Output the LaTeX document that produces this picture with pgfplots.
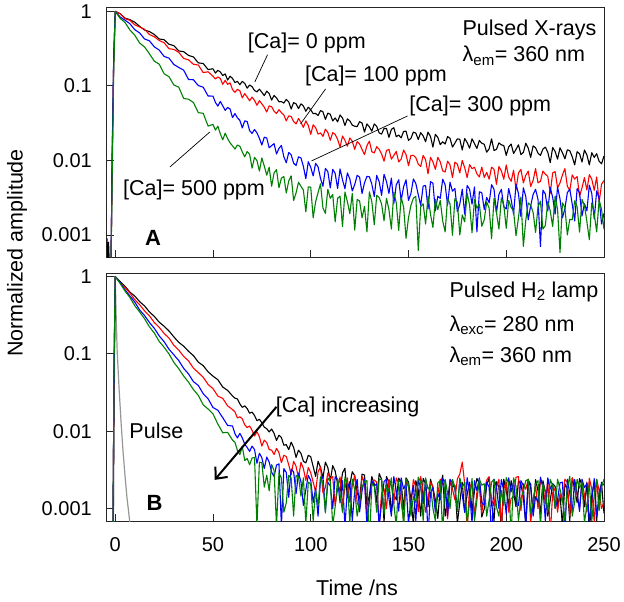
\documentclass[border=0pt]{standalone}
\usepackage{fontspec}
\setmainfont{Liberation Sans}
\usepackage{pgfplots}
\usepackage{pgfplotstable}
\pgfplotsset{compat=1.18}
\usetikzlibrary{arrows.meta}
\definecolor{cgreen}{RGB}{0,128,0}
\definecolor{cred}{RGB}{255,0,0}
\definecolor{cblue}{RGB}{0,0,255}
\definecolor{cgray}{RGB}{150,150,150}
\newcommand{\tf}{\fontsize{21.5}{25}\selectfont}

\pgfplotsset{
  panel/.style={
    scale only axis, width=497pt, xmin=-4.2, xmax=250,
    axis line style={black!85, line width=1pt},
    tick align=inside, tick pos=left, major tick length=7pt,
    xtick={0,50,100,150,200,250},
    ytick={0.001,0.01,0.1,1}, yticklabels={0.001,0.01,0.1,1},
    yminorticks=false, xminorticks=false,
    major tick style={black!85, line width=0.9pt},
    yticklabel style={font=\fontsize{20}{24}\selectfont, inner sep=0pt, xshift=-15pt},
    xticklabel style={font=\fontsize{20}{24}\selectfont, inner sep=0pt, yshift=-16pt},
    every axis plot/.append style={line width=1.1pt, line join=round},
  }
}

\pgfplotstableread{
t k r b g
-4.2 0.0009 0.0003 0.0003 0.0003
-3.8 0.0005 0.0003 0.0003 0.0003
-3.4 0.0008 0.0003 0.0003 0.0003
-3.0 0.0004 0.0003 0.0003 0.0003
-2.2 0.0003 0.0003 0.0003 0.0003
-1.5 0.012 0.012 0.015 0.008
-0.8 0.2 0.2 0.22 0.15
0 1 1 1 1
2.5 0.933 0.933 0.843 0.809
5 0.813 0.803 0.764 0.711
7.5 0.776 0.759 0.684 0.564
10 0.716 0.661 0.569 0.479
12.5 0.631 0.617 0.514 0.376
15 0.562 0.575 0.427 0.334
17.5 0.537 0.490 0.403 0.270
20 0.490 0.457 0.335 0.215
22.5 0.427 0.407 0.303 0.196
25 0.417 0.380 0.249 0.146
27.5 0.363 0.316 0.236 0.133
30 0.347 0.309 0.194 0.103
32.5 0.295 0.282 0.177 0.0963
35 0.288 0.234 0.163 0.0679
37.5 0.257 0.224 0.122 0.0664
40 0.245 0.195 0.121 0.0599
42.5 0.204 0.191 0.101 0.0438
45 0.200 0.151 0.0963 0.0429
47.5 0.166 0.155 0.0732 0.0290
50 0.170 0.135 0.0731 0.0304
51.25 0.149 0.124 0.0600 0.0255
52.5 0.162 0.132 0.0535 0.0288
53.75 0.154 0.126 0.0620 0.0228
55 0.138 0.105 0.0540 0.0189
56.25 0.145 0.119 0.0470 0.0232
57.5 0.120 0.105 0.0514 0.0196
58.75 0.135 0.110 0.0490 0.0172
60 0.126 0.0891 0.0376 0.0157
61.25 0.111 0.0820 0.0425 0.0142
62.5 0.115 0.0902 0.0373 0.0161
63.75 0.104 0.0860 0.0345 0.0155
65 0.115 0.0692 0.0273 0.0130
66.25 0.108 0.0790 0.0340 0.0112
67.5 0.0933 0.0708 0.0333 0.0132
68.75 0.103 0.0632 0.0250 0.0121
70 0.0977 0.0708 0.0231 0.00789
71.25 0.0869 0.0640 0.0260 0.0110
72.5 0.0832 0.0550 0.0234 0.00995
73.75 0.0905 0.0635 0.0198 0.0072
75 0.0822 0.0575 0.0161 0.0108
76.25 0.0742 0.0518 0.0205 0.0084
77.5 0.0851 0.0447 0.0200 0.00635
78.75 0.0790 0.0540 0.0148 0.0081
80 0.0646 0.0525 0.0158 0.00450
81.25 0.0745 0.0458 0.0168 0.0068
82.5 0.0692 0.0427 0.0122 0.00753
83.75 0.0612 0.0480 0.0145 0.0043
85 0.0617 0.0437 0.0159 0.00578
86.25 0.0588 0.0408 0.0112 0.0061
87.5 0.0661 0.0339 0.00931 0.00365
88.75 0.0612 0.0396 0.0128 0.0053
90 0.0490 0.0389 0.0119 0.00622
91.25 0.0598 0.0332 0.0092 0.0029
92.5 0.0575 0.0309 0.00855 0.00366
93.75 0.0497 0.0365 0.0112 0.0051
95 0.0575 0.0324 0.0108 0.00450
96.25 0.0538 0.0278 0.0083 0.0040
97.5 0.0457 0.0339 0.00569 0.00204
98.75 0.0518 0.0295 0.0096 0.0044
100 0.0479 0.0224 0.00809 0.00439
101.25 0.0425 0.0301 0.0062 0.0017
102.5 0.0427 0.0275 0.00914 0.00279
103.75 0.0401 0.0226 0.0082 0.0037
105 0.0468 0.0234 0.00574 0.00486
106.25 0.0449 0.0210 0.0045 0.0023
107.5 0.0355 0.0263 0.00781 0.00195
108.75 0.0431 0.0238 0.0071 0.0041
110 0.0417 0.0186 0.00428 0.00310
111.25 0.0339 0.0236 0.0076 0.0035
112.5 0.0372 0.0224 0.00671 0.00150
113.75 0.0330 0.0192 0.0042 0.0031
115 0.0407 0.0151 0.00769 0.00332
116.25 0.0372 0.0213 0.0055 0.0013
117.5 0.0295 0.0186 0.00417 0.00377
118.75 0.0362 0.0155 0.0068 0.0028
120 0.0339 0.0200 0.00565 0.00193
121.25 0.0298 0.0181 0.0039 0.0036
122.5 0.0288 0.0141 0.00475 0.00116
123.75 0.0284 0.0179 0.0063 0.0030
125 0.0331 0.0166 0.00598 0.00286
126.25 0.0318 0.0140 0.0036 0.0017
127.5 0.0240 0.0120 0.00501 0.00242
128.75 0.0309 0.0158 0.0061 0.0011
130 0.0282 0.0182 0.00604 0.00378
131.25 0.0247 0.0131 0.0048 0.0028
132.5 0.0309 0.0126 0.00328 0.00137
133.75 0.0286 0.0153 0.0063 0.0034
135 0.0234 0.0141 0.00520 0.00318
136.25 0.0226 0.0122 0.0034 0.0026
137.5 0.0269 0.00977 0.00650 0.00155
138.75 0.0268 0.0136 0.0052 0.0031
140 0.0204 0.0141 0.00361 0.00219
141.25 0.0261 0.0104 0.0058 0.0012
142.5 0.0275 0.0117 0.00264 0.00375
143.75 0.0208 0.0132 0.0047 0.0027
145 0.0219 0.00955 0.00550 0.00115
146.25 0.0201 0.0104 0.0029 0.0032
147.5 0.0245 0.0138 0.00442 0.00238
148.75 0.0247 0.0120 0.0055 0.0009
150 0.0186 0.00851 0.00291 0.00170
151.25 0.0198 0.0117 0.0036 0.0025
152.5 0.0240 0.0117 0.00564 0.00311
153.75 0.0233 0.0109 0.0049 0.0033
155 0.0191 0.00891 0.00347 0.00062
156.25 0.0236 0.00830 0.0025 0.0024
157.5 0.0214 0.0117 0.00454 0.00262
158.75 0.0178 0.0102 0.0046 0.0014
160 0.0240 0.00661 0.00223 0.00332
161.25 0.0210 0.0110 0.0052 0.0019
162.5 0.0151 0.00955 0.00495 0.00126
163.75 0.0224 0.00760 0.0021 0.0030
165 0.0204 0.0110 0.00331 0.00219
166.25 0.0163 0.00955 0.0031 0.0029
167.5 0.0178 0.00724 0.00560 0.00154
168.75 0.0166 0.00700 0.0047 0.0011
170 0.0209 0.00977 0.00251 0.00313
171.25 0.0198 0.00870 0.0051 0.0026
172.5 0.0151 0.00589 0.00386 0.000989
173.75 0.0171 0.00950 0.0042 0.0031
175 0.0195 0.00891 0.00205 0.00274
176.25 0.0192 0.00680 0.0026 0.0010
177.5 0.0138 0.0100 0.00411 0.00186
178.75 0.0197 0.00800 0.0019 0.0015
180 0.0174 0.00589 0.00461 0.00363
181.25 0.0146 0.00880 0.0041 0.0025
182.5 0.0195 0.00776 0.00259 0.00107
183.75 0.0169 0.00810 0.0044 0.0030
185 0.0145 0.00661 0.00110 0.00228
186.25 0.0186 0.00600 0.0038 0.0026
187.5 0.0170 0.00813 0.00368 0.00131
188.75 0.0165 0.00590 0.0022 0.0016
190 0.0129 0.00692 0.00319 0.00278
191.25 0.0143 0.00560 0.0027 0.0023
192.5 0.0195 0.00813 0.00473 0.000889
193.75 0.0136 0.00760 0.0041 0.0031
195 0.0141 0.00479 0.00199 0.00199
196.25 0.0172 0.00830 0.0035 0.0012
197.5 0.0162 0.00724 0.00410 0.00315
198.75 0.0158 0.00560 0.0024 0.0025
200 0.0117 0.00871 0.00223 0.00123
201.25 0.0152 0.00600 0.0042 0.0029
202.5 0.0166 0.00525 0.00300 0.00234
203.75 0.0124 0.00740 0.0019 0.0021
205 0.0141 0.00407 0.00478 0.000977
206.25 0.0162 0.00680 0.0036 0.0017
207.5 0.0120 0.00759 0.00176 0.00324
208.75 0.0128 0.00500 0.0043 0.0007
210 0.0170 0.00631 0.00327 0.00158
211.25 0.0146 0.00720 0.0016 0.0027
212.5 0.0110 0.00447 0.00246 0.00250
213.75 0.0157 0.00540 0.0035 0.0020
215 0.0148 0.00776 0.00410 0.00108
216.25 0.0125 0.00500 0.0030 0.0024
217.5 0.0117 0.00525 0.00070 0.00284
218.75 0.0142 0.00720 0.0040 0.0012
220 0.0151 0.00655 0.00354 0.00134
221.25 0.0129 0.00610 0.0021 0.0028
222.5 0.00933 0.00363 0.00433 0.00210
223.75 0.0149 0.00680 0.0032 0.0013
225 0.0132 0.00708 0.00190 0.00333
226.25 0.0104 0.00430 0.0044 0.0022
227.5 0.0148 0.00501 0.00303 0.00058
228.75 0.0127 0.00640 0.0017 0.0027
230 0.0105 0.00776 0.00225 0.00234
231.25 0.0139 0.00450 0.0037 0.0010
232.5 0.0135 0.00398 0.00411 0.00162
233.75 0.0112 0.00640 0.0026 0.0016
235 0.00871 0.00562 0.00154 0.00288
236.25 0.0131 0.00610 0.0042 0.0024
237.5 0.0123 0.00331 0.00366 0.00109
238.75 0.00952 0.00430 0.0018 0.0030
240 0.0138 0.00589 0.00263 0.00250
241.25 0.0119 0.00400 0.0021 0.0015
242.5 0.00871 0.00646 0.00465 0.000863
243.75 0.0127 0.00560 0.0036 0.0027
245 0.0110 0.00398 0.00164 0.00193
246.25 0.0123 0.00600 0.0039 0.0011
247.5 0.00977 0.00275 0.00312 0.00294
248.75 0.00902 0.00480 0.0014 0.0022
250 0.0115 0.00537 0.00195 0.00119
}\toptable

\pgfplotstableread{
t k r b g
-4.2 0.0003 0.0003 0.0003 0.0003
-1.2 0.0003 0.0003 0.0003 0.0003
-0.6 0.05 0.05 0.06 0.07
0 1 1 1 1
2.5 0.859 0.828 0.834 0.817
5 0.748 0.719 0.672 0.650
7.5 0.629 0.612 0.560 0.537
10 0.559 0.502 0.467 0.420
12.5 0.473 0.431 0.370 0.348
15 0.417 0.360 0.313 0.285
17.5 0.349 0.311 0.255 0.224
20 0.305 0.254 0.214 0.186
22.5 0.257 0.221 0.171 0.145
25 0.228 0.184 0.144 0.122
27.5 0.198 0.160 0.115 0.0999
30 0.166 0.129 0.0974 0.0776
32.5 0.141 0.112 0.0820 0.0645
35 0.126 0.0930 0.0651 0.0518
37.5 0.108 0.0813 0.0551 0.0432
40 0.0950 0.0655 0.0438 0.0346
42.5 0.0783 0.0573 0.0392 0.0291
45 0.0705 0.0500 0.0306 0.0220
47.5 0.0587 0.0403 0.0263 0.0194
50 0.0516 0.0356 0.0203 0.0168
52.5 0.0464 0.0285 0.0187 0.0124
55 0.0373 0.0266 0.0150 0.00957
57.5 0.0338 0.0213 0.0119 0.00969
60 0.0286 0.0191 0.0117 0.00769
61.25 0.0268 0.0178 0.0093 0.0072
62.5 0.0262 0.0149 0.0082 0.00567
63.75 0.0226 0.0154 0.0094 0.0050
65 0.0204 0.0145 0.00822 0.00636
66.25 0.0213 0.0121 0.0068 0.0042
67.5 0.0197 0.0112 0.00618 0.00445
68.75 0.0171 0.0117 0.0055 0.0037
70 0.0177 0.0103 0.00644 0.00452
71.25 0.0160 0.0087 0.0058 0.0046
72.5 0.0137 0.00989 0.00387 0.0006
73.75 0.0143 0.0085 0.0052 0.0040
75 0.0129 0.00645 0.00455 0.00392
76.25 0.0113 0.0077 0.0033 0.0019
77.5 0.0108 0.00715 0.00465 0.00271
78.75 0.0098 0.0058 0.0040 0.0017
80 0.0107 0.00572 0.00297 0.00372
81.25 0.0094 0.0050 0.0026 0.0031
82.5 0.00762 0.00602 0.00366 0.0006
83.75 0.0089 0.0053 0.0038 0.0029
85 0.00830 0.00393 0.0006 0.0025
86.25 0.0066 0.0049 0.0033 0.0009
87.5 0.00673 0.00472 0.00293 0.00119
88.75 0.0058 0.0037 0.0014 0.0027
90 0.00723 0.00275 0.00325 0.00248
91.25 0.0062 0.0041 0.0030 0.0008
92.5 0.00459 0.00352 0.00156 0.00268
93.75 0.0057 0.0025 0.0029 0.0026
95 0.00519 0.00397 0.00223 0.00145
96.25 0.0041 0.0033 0.0011 0.0025
97.5 0.00390 0.00232 0.00176 0.00065
98.75 0.0049 0.0034 0.0027 0.0022
100 0.00469 0.00291 0.00233 0.00207
101.25 0.0035 0.0022 0.0012 0.0007
102.5 0.00262 0.00165 0.00183 0.00173
103.75 0.0041 0.0030 0.0008 0.0011
105 0.00343 0.00347 0.00235 0.00258
106.25 0.0025 0.0016 0.0026 0.0021
107.5 0.00399 0.00188 0.00093 0.00088
108.75 0.0034 0.0029 0.0022 0.0025
110 0.00230 0.00243 0.00197 0.00225
111.25 0.0036 0.0026 0.0010 0.0006
112.5 0.00306 0.00110 0.00259 0.00106
113.75 0.0021 0.0018 0.0024 0.0024
115 0.00164 0.00257 0.00119 0.00156
116.25 0.0029 0.0011 0.0023 0.0009
117.5 0.00333 0.00184 0.00059 0.00257
118.75 0.0014 0.0025 0.0018 0.0021
120 0.00204 0.00121 0.00223 0.00066
121.25 0.0030 0.0020 0.0007 0.0024
122.5 0.00267 0.00270 0.00171 0.00175
123.75 0.0016 0.0012 0.0024 0.0008
125 0.00133 0.00099 0.00091 0.00123
126.25 0.0028 0.0026 0.0017 0.0019
127.5 0.00272 0.00219 0.00241 0.00225
128.75 0.0011 0.0008 0.0006 0.0023
130 0.00148 0.00130 0.00132 0.00035
131.25 0.0026 0.0021 0.0023 0.0021
132.5 0.00208 0.00235 0.00197 0.00195
133.75 0.0012 0.0022 0.0021 0.0009
135 0.00284 0.00059 0.00058 0.00239
136.25 0.0024 0.0016 0.0012 0.0024
137.5 0.00067 0.00181 0.00224 0.00085
138.75 0.0026 0.0010 0.0024 0.0020
140 0.00217 0.00239 0.00137 0.00165
141.25 0.0009 0.0020 0.0008 0.0025
142.5 0.00155 0.00116 0.00260 0.00114
143.75 0.0013 0.0025 0.0017 0.0006
145 0.00248 0.00213 0.00093 0.00230
146.25 0.0022 0.0012 0.0025 0.0022
147.5 0.00098 0.00072 0.00180 0.00055
148.75 0.0025 0.0023 0.0021 0.0024
150 0.00221 0.00190 0.00064 0.00209
151.25 0.0013 0.0011 0.0013 0.0008
152.5 0.00064 0.00238 0.00201 0.00143
153.75 0.0023 0.0019 0.0007 0.0012
155 0.00174 0.00091 0.00230 0.00255
156.25 0.0008 0.0026 0.0019 0.0022
157.5 0.00246 0.00167 0.00115 0.00070
158.75 0.0021 0.0009 0.0024 0.0025
160 0.00106 0.00132 0.00045 0.00179
161.25 0.0024 0.0022 0.0016 0.0020
162.5 0.00185 0.00194 0.00187 0.00101
163.75 0.0013 0.0010 0.0009 0.0007
165 0.00075 0.00152 0.00157 0.00216
166.25 0.0019 0.0024 0.0013 0.0023
167.5 0.00271 0.00208 0.00245 0.00048
168.75 0.0008 0.0017 0.0022 0.0024
170 0.00125 0.00074 0.00080 0.00157
171.25 0.0023 0.0023 0.0024 0.0010
172.5 0.00190 0.00179 0.00216 0.00238
173.75 0.0020 0.0013 0.0018 0.0019
175 0.00065 0.00242 0.00101 0.00092
176.25 0.0012 0.0028 0.0023 0.0025
177.5 0.00218 0.00400 0.00150 0.00187
178.75 0.0009 0.0021 0.0009 0.0022
180 0.00152 0.00052 0.00252 0.00066
181.25 0.0022 0.0019 0.0016 0.0012
182.5 0.00093 0.00213 0.00066 0.00245
183.75 0.0017 0.0008 0.0023 0.0007
185 0.00246 0.00164 0.00172 0.00128
186.25 0.0021 0.0023 0.0025 0.0024
187.5 0.00078 0.00087 0.00121 0.00201
188.75 0.0010 0.0017 0.0011 0.0021
190 0.00202 0.00234 0.00220 0.00080
191.25 0.0025 0.0026 0.0019 0.0013
192.5 0.00114 0.00129 0.00040 0.00220
193.75 0.0007 0.0011 0.0024 0.0024
195 0.00223 0.00192 0.00194 0.00106
196.25 0.0019 0.0024 0.0010 0.0008
197.5 0.00048 0.00059 0.00238 0.00172
198.75 0.0024 0.0018 0.0017 0.0011
200 0.00172 0.00220 0.00085 0.00252
201.25 0.0011 0.0009 0.0025 0.0021
202.5 0.00230 0.00136 0.00165 0.00045
203.75 0.0016 0.0014 0.0022 0.0025
205 0.00106 0.00255 0.00115 0.00194
206.25 0.0023 0.0026 0.0011 0.0007
207.5 0.00208 0.00094 0.00230 0.00136
208.75 0.0014 0.0021 0.0020 0.0017
210 0.00062 0.00178 0.00059 0.00230
211.25 0.0024 0.0024 0.0023 0.0024
212.5 0.00187 0.00066 0.00209 0.00087
213.75 0.0009 0.0013 0.0008 0.0012
215 0.00238 0.00199 0.00143 0.00209
216.25 0.0017 0.0010 0.0012 0.0023
217.5 0.00084 0.00227 0.00255 0.00059
218.75 0.0023 0.0020 0.0019 0.0021
220 0.00165 0.00115 0.00070 0.00165
221.25 0.0008 0.0024 0.0025 0.0009
222.5 0.00128 0.00045 0.00179 0.00238
223.75 0.0021 0.0016 0.0021 0.0020
225 0.00194 0.00185 0.00101 0.00101
226.25 0.0011 0.0009 0.0013 0.0024
227.5 0.00150 0.00157 0.00216 0.00179
228.75 0.0006 0.0012 0.0022 0.0013
230 0.00209 0.00241 0.00048 0.00070
231.25 0.0018 0.0022 0.0024 0.0019
232.5 0.00070 0.00080 0.00157 0.00262
233.75 0.0025 0.0025 0.0009 0.0008
235 0.00179 0.00213 0.00238 0.00122
236.25 0.0012 0.0015 0.0016 0.0024
237.5 0.00245 0.00101 0.00092 0.00185
238.75 0.0020 0.0023 0.0024 0.0022
240 0.00106 0.00150 0.00187 0.00066
241.25 0.0022 0.0009 0.0021 0.0011
242.5 0.00048 0.00248 0.00066 0.00213
243.75 0.0015 0.0018 0.0013 0.0007
245 0.00216 0.00066 0.00245 0.00150
246.25 0.0007 0.0024 0.0008 0.0024
247.5 0.00165 0.00171 0.00128 0.00094
248.75 0.0021 0.0010 0.0022 0.0019
250 0.00087 0.00122 0.00201 0.00241
}\bottable

\begin{document}
\begin{tikzpicture}
\path[use as bounding box] (-107pt,7pt) rectangle (517pt,-595pt);
\begin{semilogyaxis}[panel, at={(0pt,0pt)}, anchor=north west, height=250pt,
  ymin=5.06e-4, ymax=1.146, xticklabels={}]
\addplot[black] table[x=t,y=k]{\toptable};
\addplot[cred] table[x=t,y=r]{\toptable};
\addplot[cblue] table[x=t,y=b]{\toptable};
\addplot[cgreen] table[x=t,y=g]{\toptable};
\draw[black, line width=0.7pt] (axis cs:71.4,0.113) -- (axis cs:77.9,0.262);
\draw[black, line width=0.7pt] (axis cs:94.8,0.0309) -- (axis cs:107.6,0.0912);
\draw[black, line width=0.7pt] (axis cs:100.4,0.00985) -- (axis cs:149.5,0.0395);
\draw[black, line width=0.7pt] (axis cs:28.0,0.00818) -- (axis cs:48.4,0.0241);
\node[anchor=base west, inner sep=0pt, font=\tf] at (axis cs:67.8,0.318) {[Ca]= 0 ppm};
\node[anchor=base west, inner sep=0pt, font=\tf] at (axis cs:97.0,0.113) {[Ca]= 100 ppm};
\node[anchor=base west, inner sep=0pt, font=\tf] at (axis cs:150.4,0.0448) {[Ca]= 300 ppm};
\node[anchor=base west, inner sep=0pt, font=\tf] at (axis cs:4.0,0.0034) {[Ca]= 500 ppm};
\node[anchor=base west, inner sep=0pt, font=\tf] at (axis cs:177.6,0.470) {Pulsed X-rays};
\node[anchor=base west, inner sep=0pt, font=\tf] at (axis cs:177.6,0.210) {λ\textsubscript{em}= 360 nm};
\node[anchor=base west, inner sep=0pt, font=\fontsize{22}{26}\selectfont\bfseries] at (axis cs:15.2,0.000713) {A};
\end{semilogyaxis}

\begin{semilogyaxis}[panel, at={(0pt,-266pt)}, anchor=north west, height=248.3pt,
  ymin=6.87e-4, ymax=1.11, xticklabels={0,50,100,150,200,250}]
\addplot[cgray, line width=1.2pt] coordinates {(-0.9,0.0004) (-0.4,0.05) (0,1) (0.5,0.3) (1.0,0.11) (2.0,0.035) (3.0,0.013) (4.0,0.0055) (5.0,0.0027) (6.0,0.0014) (7.0,0.00085) (8.0,0.0005)};
\addplot[black] table[x=t,y=k]{\bottable};
\addplot[cred] table[x=t,y=r]{\bottable};
\addplot[cblue] table[x=t,y=b]{\bottable};
\addplot[cgreen] table[x=t,y=g]{\bottable};
\draw[black, line width=2pt, -{Straight Barb[length=9pt, width=16pt]}] (axis cs:82.5,0.0207) -- (axis cs:50.9,0.00236);
\node[anchor=base west, inner sep=0pt, font=\tf] at (axis cs:82.1,0.0175) {[Ca] increasing};
\node[anchor=base west, inner sep=0pt, font=\tf] at (axis cs:7.2,0.00819) {Pulse};
\node[anchor=base west, inner sep=0pt, font=\tf] at (axis cs:170.9,0.539) {Pulsed H\textsubscript{2} lamp};
\node[anchor=base west, inner sep=0pt, font=\tf] at (axis cs:170.9,0.196) {λ\textsubscript{exc}= 280 nm};
\node[anchor=base west, inner sep=0pt, font=\tf] at (axis cs:170.9,0.0772) {λ\textsubscript{em}= 360 nm};
\node[anchor=base west, inner sep=0pt, font=\fontsize{22}{26}\selectfont\bfseries] at (axis cs:16.0,0.000942) {B};
\end{semilogyaxis}

\node[rotate=90, font=\tf, anchor=center, inner sep=0pt] at (-90pt,-246pt) {Normalized amplitude};
\node[font=\tf, anchor=base, inner sep=0pt] at (250pt,-588pt) {Time /ns};
\end{tikzpicture}
\end{document}
